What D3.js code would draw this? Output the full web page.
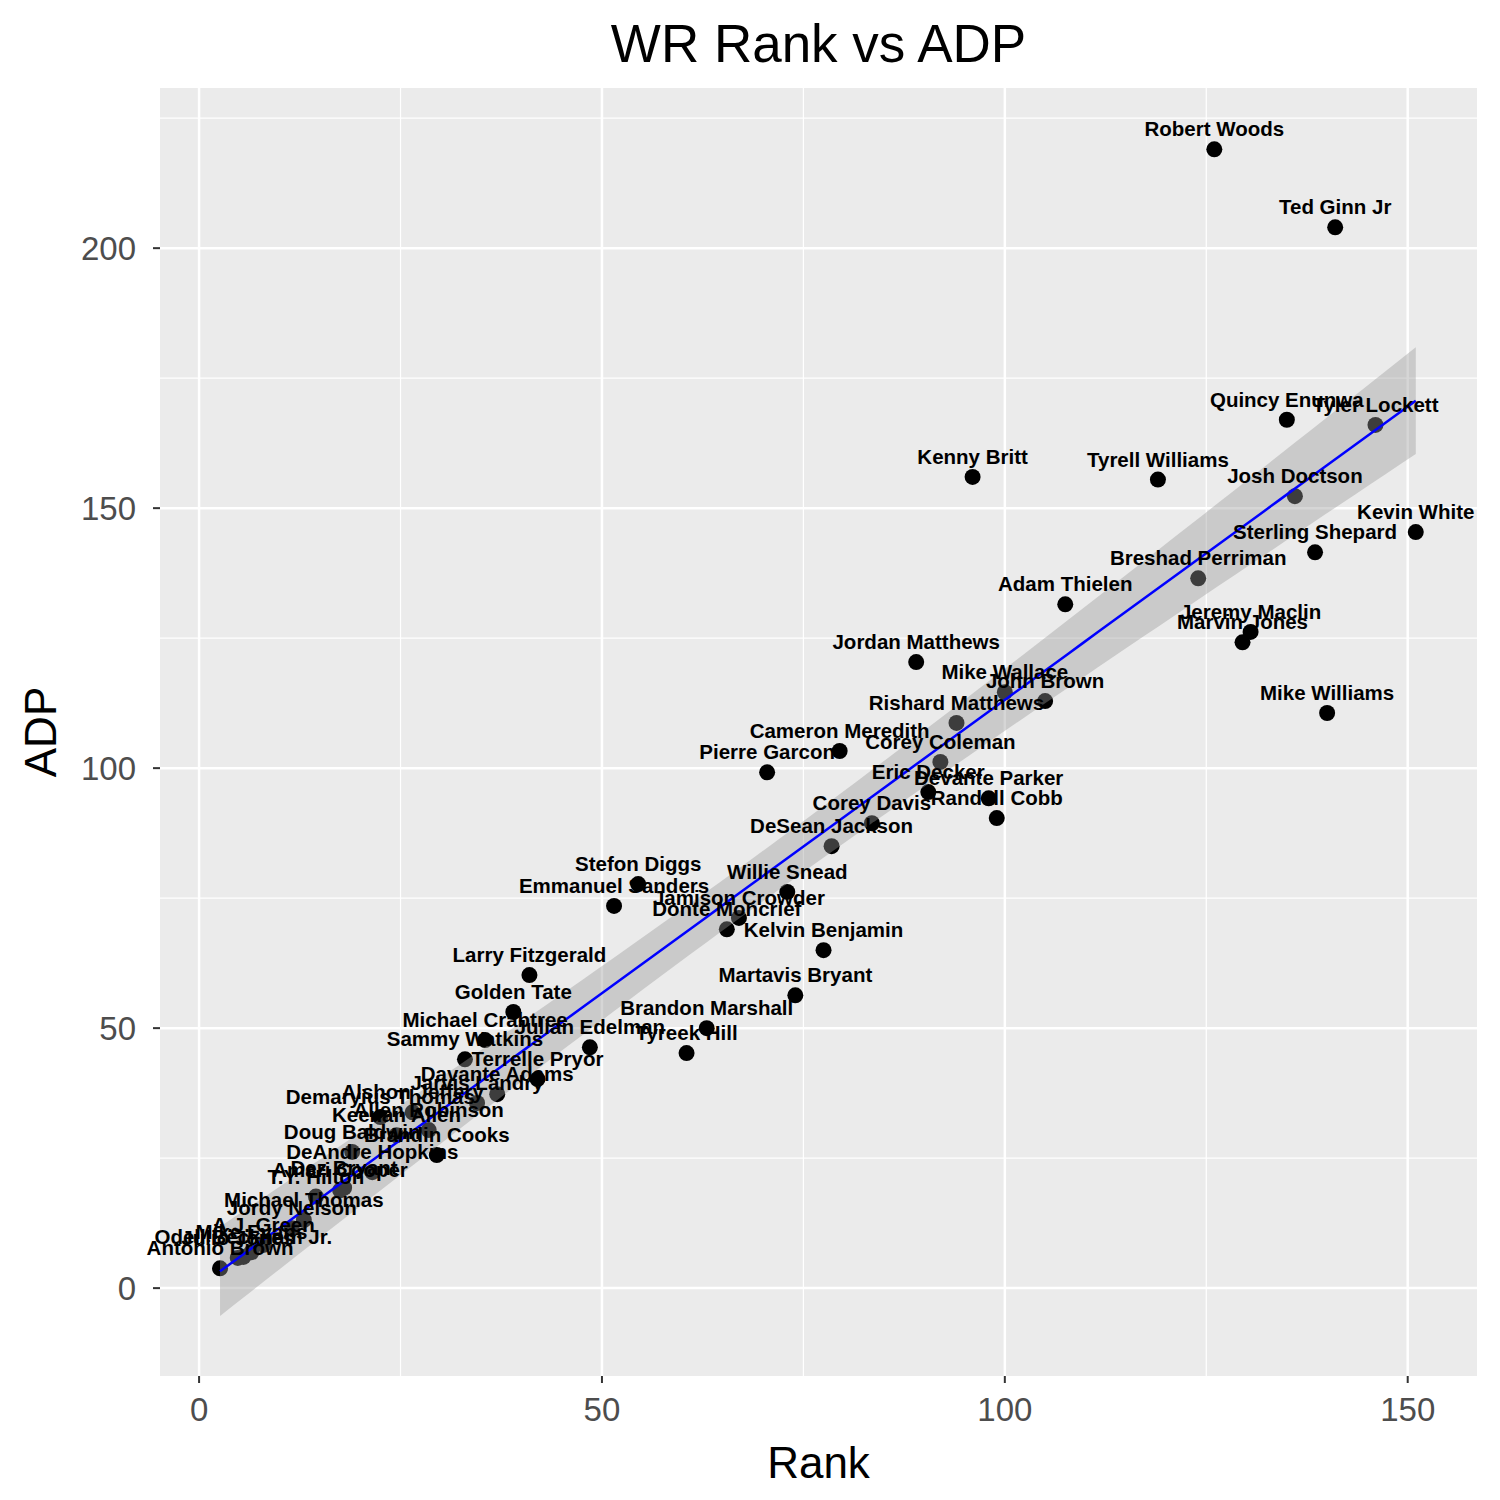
<!DOCTYPE html>
<html><head><meta charset="utf-8">
<script src="https://cdn.jsdelivr.net/npm/d3@7"></script>
<style>body{margin:0;background:#fff}</style></head>
<body><svg id="c" width="1500" height="1500"></svg>
<script>
const players=["Robert Woods","Ted Ginn Jr","Tyler Lockett","Quincy Enunwa","Kenny Britt","Tyrell Williams","Josh Doctson","Kevin White","Sterling Shepard","Breshad Perriman","Adam Thielen","Jeremy Maclin","Marvin Jones","Jordan Matthews","Mike Wallace","John Brown","Mike Williams","Rishard Matthews","Cameron Meredith","Corey Coleman","Pierre Garcon","Eric Decker","Devante Parker","Randall Cobb","Corey Davis","DeSean Jackson","Stefon Diggs","Willie Snead","Emmanuel Sanders","Jamison Crowder","Donte Moncrief","Kelvin Benjamin","Larry Fitzgerald","Martavis Bryant","Golden Tate","Brandon Marshall","Michael Crabtree","Julian Edelman","Tyreek Hill","Sammy Watkins","Terrelle Pryor","Davante Adams","Jarvis Landry","Demaryius Thomas","Alshon Jeffery","Allen Robinson","Keenan Allen","Doug Baldwin","Brandin Cooks","DeAndre Hopkins","Amari Cooper","Dez Bryant","T.Y. Hilton","Michael Thomas","Jordy Nelson","A.J. Green","Mike Evans","Odell Beckham Jr.","Julio Jones","Antonio Brown"];
const rank=[126,141,146,135,96,119,136,151,138.5,124,107.5,130.5,129.5,89,100,105,140,94,79.5,92,70.5,90.5,98,99,83.5,78.5,54.5,73,51.5,67,65.5,77.5,41,74,39,63,35.5,48.5,60.5,33,42,37,34.5,22.5,26.5,28.5,24.5,19,29.5,21.5,17.5,18,14.5,13,11.5,8,6.5,5.5,4.8,2.6];
const adp=[219,204,166,167,156,155.5,152.3,145.4,141.5,136.5,131.5,126.2,124.2,120.4,114.6,112.9,110.6,108.7,103.3,101.2,99.2,95.4,94.2,90.4,89.4,85,77.7,76.2,73.5,71.2,69,65,60.2,56.3,53.1,50,47.7,46.3,45.2,44,40.2,37.3,35.6,32.9,33.8,30.4,29.4,26.2,25.6,22.3,18.8,19.3,17.6,13.1,11.5,8.3,6.9,6,5.8,3.8];
const xTicks=[0,50,100,150], yTicks=[0,50,100,150,200];
const xMinor=[25,75,125], yMinor=[25,75,125,175,225];

const svg=d3.select("#c"), L=160,R=1477,T=88,B=1376;
const x=d3.scaleLinear().domain([-4.85,158.6]).range([L,R]);
const y=d3.scaleLinear().domain([-16.9,230.8]).range([B,T]);
svg.append("rect").attr("x",L).attr("y",T).attr("width",R-L).attr("height",B-T).attr("fill","#ebebeb");
const g=svg.append("g");
xMinor.forEach(v=>g.append("line").attr("x1",x(v)).attr("x2",x(v)).attr("y1",T).attr("y2",B).attr("stroke","#fff").attr("stroke-width",1.2));
yMinor.forEach(v=>g.append("line").attr("y1",y(v)).attr("y2",y(v)).attr("x1",L).attr("x2",R).attr("stroke","#fff").attr("stroke-width",1.2));
xTicks.forEach(v=>g.append("line").attr("x1",x(v)).attr("x2",x(v)).attr("y1",T).attr("y2",B).attr("stroke","#fff").attr("stroke-width",2.5));
yTicks.forEach(v=>g.append("line").attr("y1",y(v)).attr("y2",y(v)).attr("x1",L).attr("x2",R).attr("stroke","#fff").attr("stroke-width",2.5));

const data=players.map((p,i)=>({p,x:rank[i],y:adp[i]}));
svg.selectAll("circle.pt").data(data).join("circle").attr("cx",d=>x(d.x)).attr("cy",d=>y(d.y)).attr("r",8).attr("fill","#000");

const n=data.length, mx=d3.mean(rank), my=d3.mean(adp);
const sxx=d3.sum(rank,v=>(v-mx)**2), sxy=d3.sum(data,d=>(d.x-mx)*(d.y-my));
const b=sxy/sxx, a=my-b*mx;
const s=Math.sqrt(d3.sum(data,d=>(d.y-a-b*d.x)**2)/(n-2)), t=2.0;
const xs=d3.range(80).map(i=>d3.min(rank)+i*(d3.max(rank)-d3.min(rank))/79);
const band=xs.map(v=>{const f=a+b*v, se=s*Math.sqrt(1/n+(v-mx)**2/sxx);return {x:v,f,lo:f-t*se,hi:f+t*se};});
svg.append("path").datum(band).attr("d",d3.area().x(d=>x(d.x)).y0(d=>y(d.lo)).y1(d=>y(d.hi))).attr("fill","#999").attr("fill-opacity",0.4);
svg.append("path").datum(band).attr("d",d3.line().x(d=>x(d.x)).y(d=>y(d.f))).attr("fill","none").attr("stroke","#0000ff").attr("stroke-width",2.5);

const ff="Liberation Sans, Arial, sans-serif";
svg.selectAll("text.lb").data(data).join("text").attr("x",d=>x(d.x)).attr("y",d=>y(d.y)-13).attr("text-anchor","middle")
 .attr("font-family",ff).attr("font-weight","bold").attr("font-size",20.5).attr("fill","#000").text(d=>d.p);

xTicks.forEach(v=>{svg.append("line").attr("x1",x(v)).attr("x2",x(v)).attr("y1",B).attr("y2",B+7).attr("stroke","#333").attr("stroke-width",2);
 svg.append("text").attr("x",x(v)).attr("y",B+45).attr("text-anchor","middle").attr("font-family",ff).attr("font-size",33).attr("fill","#4d4d4d").text(v);});
yTicks.forEach(v=>{svg.append("line").attr("x1",L-7).attr("x2",L).attr("y1",y(v)).attr("y2",y(v)).attr("stroke","#333").attr("stroke-width",2);
 svg.append("text").attr("x",L-24).attr("y",y(v)+12).attr("text-anchor","end").attr("font-family",ff).attr("font-size",33).attr("fill","#4d4d4d").text(v);});
svg.append("text").attr("x",(L+R)/2).attr("y",1478).attr("text-anchor","middle").attr("font-family",ff).attr("font-size",44).text("Rank");
svg.append("text").attr("transform",`translate(56,${(T+B)/2}) rotate(-90)`).attr("text-anchor","middle").attr("font-family",ff).attr("font-size",44).text("ADP");
svg.append("text").attr("x",(L+R)/2).attr("y",62).attr("text-anchor","middle").attr("font-family",ff).attr("font-size",53).text("WR Rank vs ADP");
</script></body></html>
